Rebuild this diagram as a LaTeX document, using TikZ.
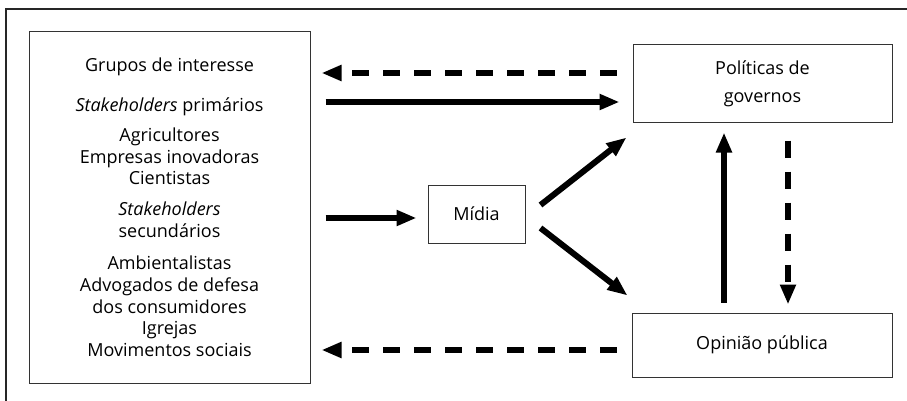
\documentclass[tikz,border=0pt]{standalone}
\usepackage{fontspec}
\setmainfont{Open Sans}
\usetikzlibrary{arrows.meta}

\begin{document}
\begin{tikzpicture}[x=1pt, y=-1pt,
  caixa/.style={draw=black!80, line width=1pt, inner sep=0pt, align=center},
  seta/.style={line width=6pt, -{Triangle[length=20pt,width=15pt]}},
  tracejada/.style={seta, dash pattern=on 17pt off 14pt}]
\useasboundingbox (0,0) rectangle (907,401);
\draw[line width=1.5pt, black!85] (907,9) -- (6,9) -- (6,401);
\node[caixa, minimum width=281pt, minimum height=351pt, font=\fontsize{18}{21.7}\selectfont] (grupos) at (169.5,207.5)
  {Grupos de interesse\\[18pt]
   \textit{Stakeholders} primários\\[8pt]
   Agricultores\\ Empresas inovadoras\\ Cientistas\\[9pt]
   \textit{Stakeholders}\\ secundários\\[11pt]
   Ambientalistas\\ Advogados de defesa\\ dos consumidores\\ Igrejas\\ Movimentos sociais};
\node[caixa, minimum width=259pt, minimum height=78pt, font=\fontsize{18}{28}\selectfont] (politicas) at (762.5,84) {Políticas de\\governos};
\node[caixa, minimum width=260pt, minimum height=64pt, font=\fontsize{18}{22}\selectfont] (opiniao) at (762,345) {Opinião pública};
\node[caixa, minimum width=97pt, minimum height=58pt, font=\fontsize{18}{22}\selectfont] (midia) at (476.5,214) {Mídia};
% setas
\draw[tracejada] ([xshift=-16pt,yshift=11pt]politicas.west) -- ([xshift=11pt,yshift=134.5pt]grupos.east);
\draw[seta] ([xshift=15pt,yshift=105.5pt]grupos.east) -- ([xshift=-13pt,yshift=-18pt]politicas.west);
\draw[seta] ([xshift=15pt,yshift=-10.5pt]grupos.east) -- ([xshift=-11pt,yshift=-4pt]midia.west);
\draw[seta] ([xshift=15pt,yshift=9pt]midia.east) -- ([xshift=-6pt,yshift=-14pt]politicas.south west);
\draw[seta] ([xshift=15pt,yshift=-14pt]midia.east) -- ([xshift=-4pt,yshift=17pt]opiniao.north west);
\draw[tracejada] ([xshift=-15pt,yshift=-5pt]opiniao.west) -- ([xshift=11pt,yshift=-142.5pt]grupos.east);
\draw[seta] ([xshift=-38pt,yshift=10pt]opiniao.north) -- ([xshift=-38.5pt,yshift=-9pt]politicas.south);
\draw[tracejada] ([xshift=25.5pt,yshift=-17pt]politicas.south) -- ([xshift=26pt,yshift=8pt]opiniao.north);
\end{tikzpicture}
\end{document}
